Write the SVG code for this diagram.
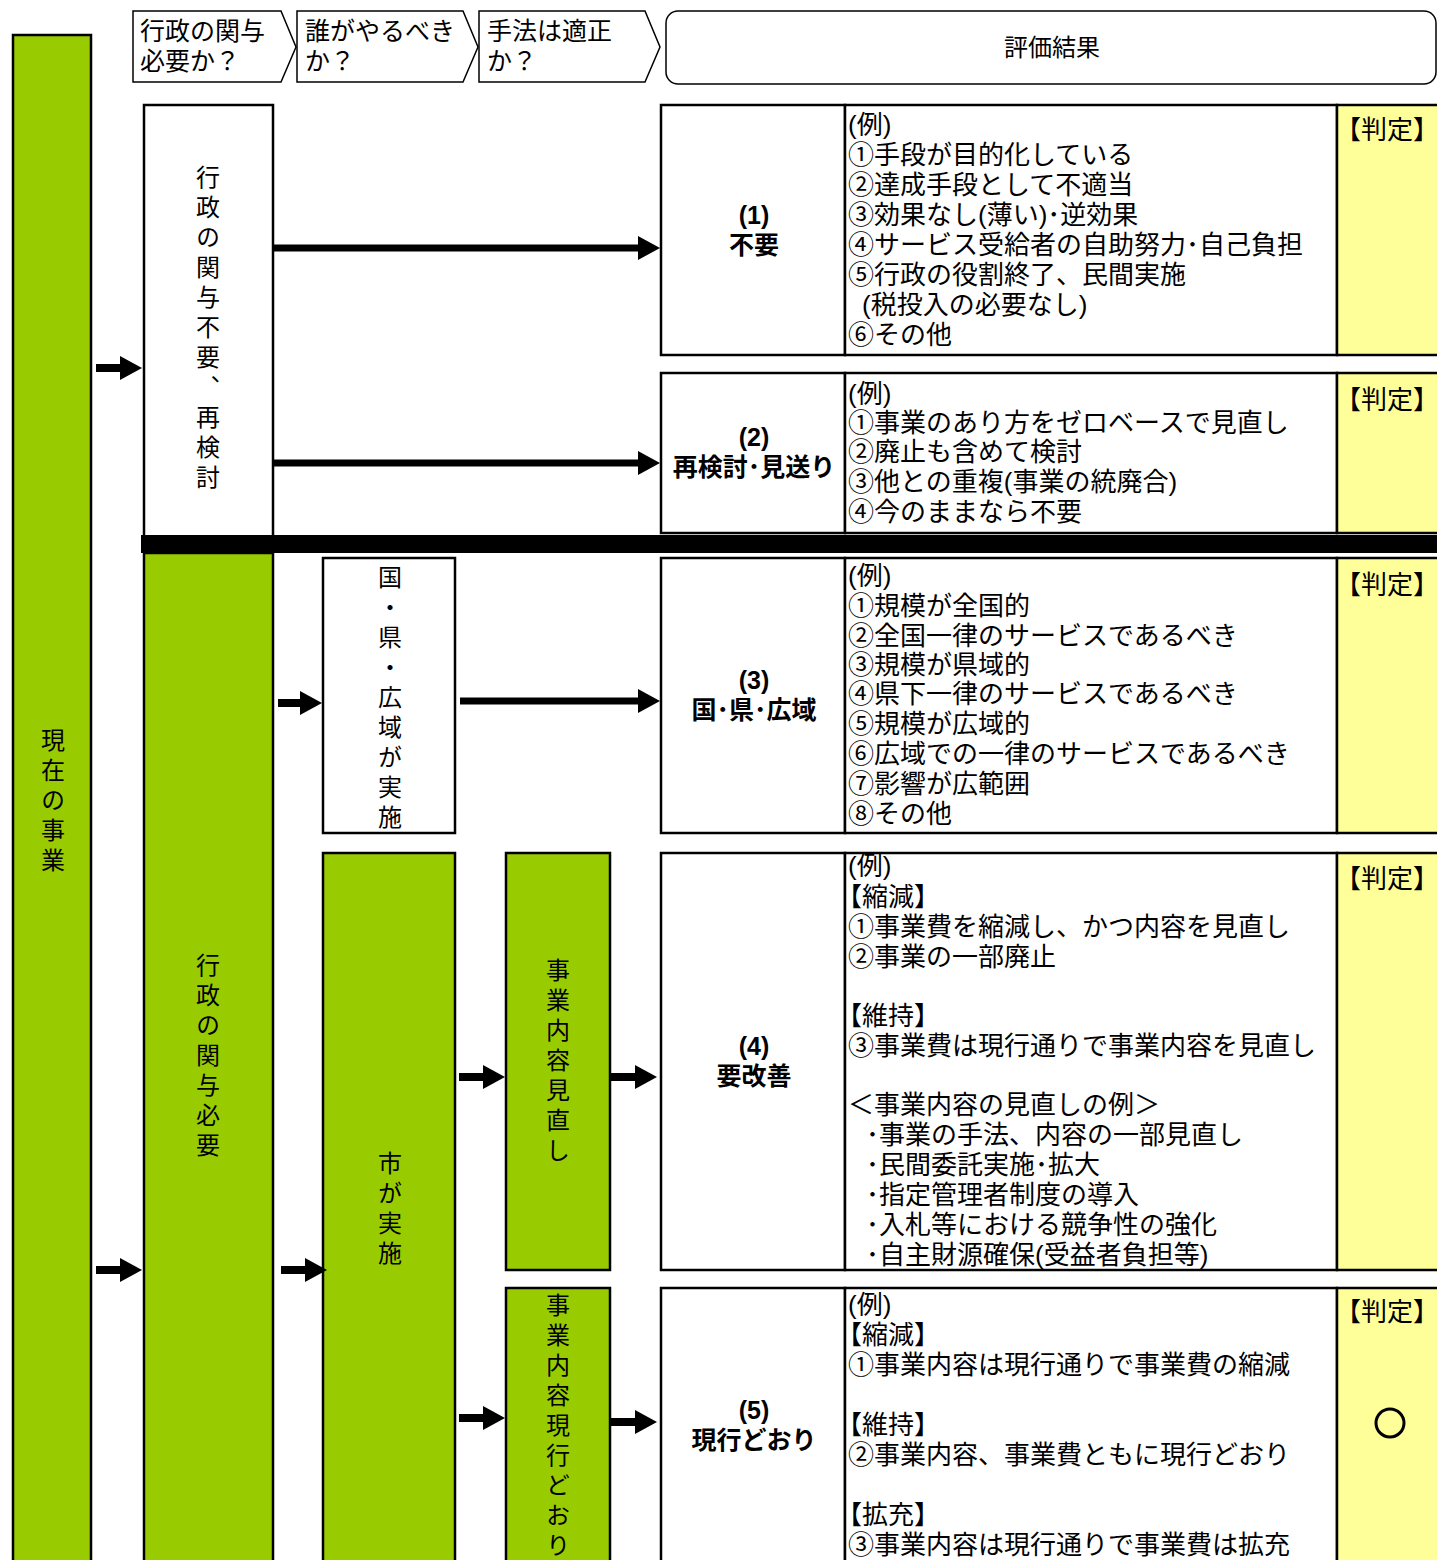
<svg xmlns="http://www.w3.org/2000/svg" width="1437" height="1560" viewBox="0 0 1437 1560">
<defs>
<style>
text{font-family:"Liberation Sans","Noto Sans CJK JP","Noto Sans CJK SC",sans-serif;fill:#000}
.vt{font-family:"Noto Sans CJK JP","Noto Sans CJK SC",sans-serif;writing-mode:vertical-rl;font-size:24px;letter-spacing:6px}
.g{fill:#99CC00;stroke:#000;stroke-width:2.5}
.w{fill:#fff;stroke:#000;stroke-width:2.5}
.y{fill:#FFFF99;stroke:#000;stroke-width:2.5}
.hd{fill:#fff;stroke:#000;stroke-width:1.5}
.ht{font-size:25px}
.bt{font-size:26px}
.lb{font-size:25px;font-weight:bold;text-anchor:middle}
.jt{font-size:24px}
.pd{font-size:26px}
.ar{stroke:#000;stroke-width:8;fill:none;marker-end:url(#ah)}
.arl{stroke:#000;stroke-width:7;fill:none;marker-end:url(#ah)}
</style>
<marker id="ah" markerUnits="userSpaceOnUse" viewBox="0 0 22 24" refX="8" refY="12" markerWidth="22" markerHeight="24" orient="auto">
<path d="M0,0 L22,12 L0,24 z" fill="#000"/>
</marker>
</defs>

<g id="header">
<polygon class="hd" points="133,11 281,11 296,47 281,82 133,82"/>
<text class="ht"><tspan x="140" y="40">行政の関与</tspan><tspan x="140" y="70">必要か？</tspan></text>
<polygon class="hd" points="297,11 463,11 478,47 463,82 297,82"/>
<text class="ht"><tspan x="305" y="40">誰がやるべき</tspan><tspan x="305" y="70">か？</tspan></text>
<polygon class="hd" points="479,11 645,11 660,47 645,82 479,82"/>
<text class="ht"><tspan x="487" y="40">手法は適正</tspan><tspan x="487" y="70">か？</tspan></text>
<rect class="hd" x="666" y="11" width="770" height="73" rx="12"/>
<text class="jt" x="1052" y="56" text-anchor="middle">評価結果</text>
</g>

<g id="current">
<rect class="g" x="13" y="35" width="78" height="1540"/>
<text class="vt" x="53" y="728">現在の事業</text>
</g>

<g id="unnecessary">
<rect class="w" x="144" y="105" width="129" height="440"/>
<text class="vt" x="208" y="165">行政の関与不要、再検討</text>
</g>

<g id="divider">
<rect x="141" y="535" width="1300" height="18" fill="#000"/>
</g>

<g id="necessary">
<rect class="g" x="144" y="553" width="129" height="1020"/>
<text class="vt" x="208" y="953">行政の関与必要</text>
</g>

<g id="national">
<rect class="w" x="323" y="558" width="132" height="275"/>
<text class="vt" x="390" y="565">国・県・広域が実施</text>
</g>

<g id="city">
<rect class="g" x="323" y="853" width="132" height="720"/>
<text class="vt" x="390" y="1151">市が実施</text>
</g>

<g id="review">
<rect class="g" x="506" y="853" width="104" height="417"/>
<text class="vt" x="558" y="958">事業内容見直し</text>
</g>

<g id="keep">
<rect class="g" x="506" y="1288" width="104" height="285"/>
<text class="vt" x="558" y="1293">事業内容現行どおり</text>
</g>

<g id="row1">
<rect class="w" x="661" y="105" width="184" height="250"/>
<rect class="w" x="845" y="105" width="492" height="250"/>
<rect class="y" x="1337" y="105" width="110" height="250"/>
<text class="lb"><tspan x="754" y="224">(1)</tspan><tspan x="754" y="254">不要</tspan></text>
<text class="bt">
<tspan x="848" y="134">(例)</tspan>
<tspan x="848" y="164">①手段が目的化している</tspan>
<tspan x="848" y="194">②達成手段として不適当</tspan>
<tspan x="848" y="224">③効果なし(薄い)･逆効果</tspan>
<tspan x="848" y="254">④サービス受給者の自助努力･自己負担</tspan>
<tspan x="848" y="284">⑤行政の役割終了、民間実施</tspan>
<tspan x="862" y="314">(税投入の必要なし)</tspan>
<tspan x="848" y="344">⑥その他</tspan>
</text>
<text class="pd" x="1335" y="139">【判定】</text>
</g>

<g id="row2">
<rect class="w" x="661" y="373" width="184" height="160"/>
<rect class="w" x="845" y="373" width="492" height="160"/>
<rect class="y" x="1337" y="373" width="110" height="160"/>
<text class="lb"><tspan x="754" y="446">(2)</tspan><tspan x="754" y="476">再検討･見送り</tspan></text>
<text class="bt">
<tspan x="848" y="403">(例)</tspan>
<tspan x="848" y="432">①事業のあり方をゼロベースで見直し</tspan>
<tspan x="848" y="461">②廃止も含めて検討</tspan>
<tspan x="848" y="491">③他との重複(事業の統廃合)</tspan>
<tspan x="848" y="521">④今のままなら不要</tspan>
</text>
<text class="pd" x="1335" y="409">【判定】</text>
</g>

<g id="row3">
<rect class="w" x="661" y="558" width="184" height="275"/>
<rect class="w" x="845" y="558" width="492" height="275"/>
<rect class="y" x="1337" y="558" width="110" height="275"/>
<text class="lb"><tspan x="754" y="689">(3)</tspan><tspan x="754" y="719">国･県･広域</tspan></text>
<text class="bt">
<tspan x="848" y="585">(例)</tspan>
<tspan x="848" y="615">①規模が全国的</tspan>
<tspan x="848" y="645">②全国一律のサービスであるべき</tspan>
<tspan x="848" y="674">③規模が県域的</tspan>
<tspan x="848" y="703">④県下一律のサービスであるべき</tspan>
<tspan x="848" y="733">⑤規模が広域的</tspan>
<tspan x="848" y="763">⑥広域での一律のサービスであるべき</tspan>
<tspan x="848" y="793">⑦影響が広範囲</tspan>
<tspan x="848" y="823">⑧その他</tspan>
</text>
<text class="pd" x="1335" y="594">【判定】</text>
</g>

<g id="row4">
<rect class="w" x="661" y="853" width="184" height="417"/>
<rect class="w" x="845" y="853" width="492" height="417"/>
<rect class="y" x="1337" y="853" width="110" height="417"/>
<text class="lb"><tspan x="754" y="1055">(4)</tspan><tspan x="754" y="1085">要改善</tspan></text>
<text class="bt">
<tspan x="848" y="875">(例)</tspan>
<tspan x="836" y="906">【縮減】</tspan>
<tspan x="848" y="936">①事業費を縮減し、かつ内容を見直し</tspan>
<tspan x="848" y="966">②事業の一部廃止</tspan>
<tspan x="836" y="1025">【維持】</tspan>
<tspan x="848" y="1055">③事業費は現行通りで事業内容を見直し</tspan>
<tspan x="848" y="1114">＜事業内容の見直しの例＞</tspan>
<tspan x="866" y="1144">･事業の手法、内容の一部見直し</tspan>
<tspan x="866" y="1174">･民間委託実施･拡大</tspan>
<tspan x="866" y="1204">･指定管理者制度の導入</tspan>
<tspan x="866" y="1234">･入札等における競争性の強化</tspan>
<tspan x="866" y="1264">･自主財源確保(受益者負担等)</tspan>
</text>
<text class="pd" x="1335" y="888">【判定】</text>
</g>

<g id="row5">
<rect class="w" x="661" y="1288" width="184" height="285"/>
<rect class="w" x="845" y="1288" width="492" height="285"/>
<rect class="y" x="1337" y="1288" width="110" height="285"/>
<text class="lb"><tspan x="754" y="1419">(5)</tspan><tspan x="754" y="1449">現行どおり</tspan></text>
<text class="bt">
<tspan x="848" y="1314">(例)</tspan>
<tspan x="836" y="1344">【縮減】</tspan>
<tspan x="848" y="1374">①事業内容は現行通りで事業費の縮減</tspan>
<tspan x="836" y="1434">【維持】</tspan>
<tspan x="848" y="1464">②事業内容、事業費ともに現行どおり</tspan>
<tspan x="836" y="1524">【拡充】</tspan>
<tspan x="848" y="1554">③事業内容は現行通りで事業費は拡充</tspan>
</text>
<text class="pd" x="1335" y="1321">【判定】</text>
<circle cx="1390" cy="1423" r="14" fill="none" stroke="#000" stroke-width="3"/>
</g>

<g id="connectors">
<line class="ar" x1="96" y1="368" x2="128" y2="368"/>
<line class="arl" x1="273" y1="248" x2="646" y2="248"/>
<line class="arl" x1="273" y1="463" x2="646" y2="463"/>
<line class="ar" x1="278" y1="703" x2="308" y2="703"/>
<line class="arl" x1="460" y1="701" x2="646" y2="701"/>
<line class="ar" x1="96" y1="1270" x2="128" y2="1270"/>
<line class="ar" x1="281" y1="1270" x2="313" y2="1270"/>
<line class="ar" x1="459" y1="1077" x2="491" y2="1077"/>
<line class="ar" x1="611" y1="1077" x2="643" y2="1077"/>
<line class="ar" x1="459" y1="1418" x2="491" y2="1418"/>
<line class="ar" x1="611" y1="1422" x2="643" y2="1422"/>
</g>
</svg>
